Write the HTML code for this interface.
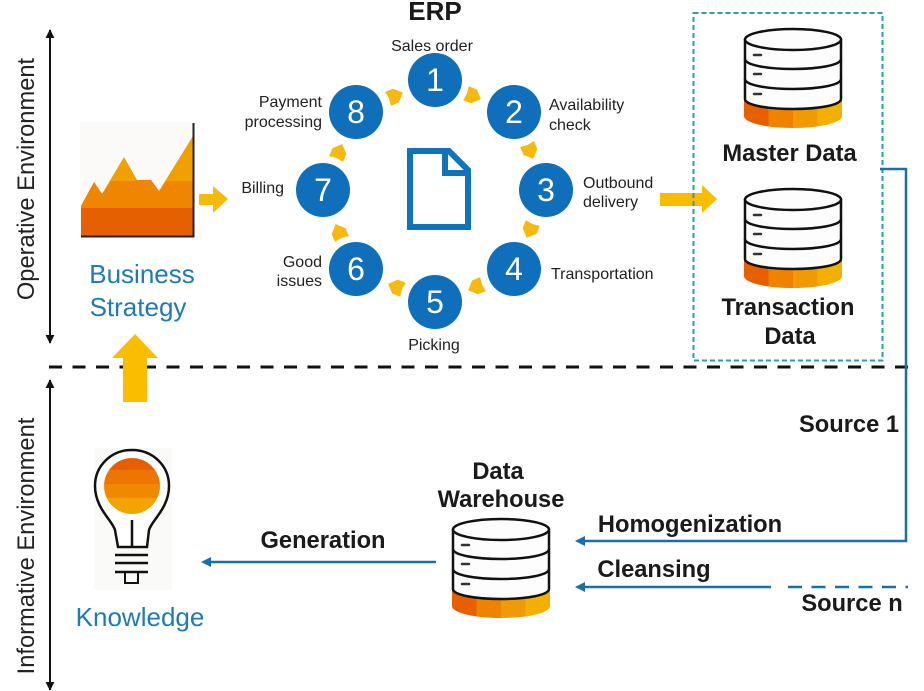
<!DOCTYPE html>
<html><head><meta charset="utf-8"><style>
html,body{margin:0;padding:0;background:#fff}
svg{display:block}
text{font-family:"Liberation Sans",sans-serif}
.s{font-size:16px;fill:#222}
.b{font-weight:bold;fill:#1a1a1a;font-size:23.7px}
.n{font-size:32px;fill:#fff;text-anchor:middle}
.v{font-size:23.7px;fill:#222;text-anchor:middle}
.t{font-size:26px;fill:#1f7ab5;text-anchor:middle}
</style></head><body>
<svg width="924" height="691" viewBox="0 0 924 691" xmlns="http://www.w3.org/2000/svg">
<defs>
<marker id="ah" viewBox="0 0 10 10" refX="9" refY="5" markerWidth="4.500" markerHeight="4.500" orient="auto-start-reverse"><path d="M0 0L10 5L0 10z" fill="#111"/></marker>
<linearGradient id="bg" x1="0" x2="1" y1="0" y2="0">
<stop offset="0" stop-color="#e85f00"/><stop offset=".25" stop-color="#e85f00"/><stop offset=".25" stop-color="#ee8300"/><stop offset=".5" stop-color="#ee8300"/><stop offset=".5" stop-color="#f09a05"/><stop offset=".75" stop-color="#f09a05"/><stop offset=".75" stop-color="#f3b000"/><stop offset="1" stop-color="#f3b000"/>
</linearGradient>
<linearGradient id="bulb" x1="0" x2="0" y1="0" y2="1">
<stop offset="0" stop-color="#e75e00"/><stop offset=".2" stop-color="#e75e00"/><stop offset=".22" stop-color="#ec7600"/><stop offset=".45" stop-color="#ec7600"/><stop offset=".48" stop-color="#ef8a00"/><stop offset=".7" stop-color="#ef8a00"/><stop offset=".73" stop-color="#f2a500"/><stop offset="1" stop-color="#f2a500"/>
</linearGradient>
<symbol id="db" width="100" height="104" viewBox="0 0 100 104" overflow="visible">
<path d="M1 72V88C1 95 24 100 50 100S99 95 99 88V72z" fill="url(#bg)"/>
<path d="M2 12V71C2 77 24 81 50 81S98 77 98 71V12z" fill="#fdfdfd" stroke="#111" stroke-width="2.500"/>
<ellipse cx="50" cy="11.500" rx="48" ry="10.500" fill="#fdfdfd" stroke="#111" stroke-width="2.500"/>
<path d="M2 31C2 37 24 41 50 41S98 37 98 31M2 51C2 57 24 61 50 61S98 57 98 51" fill="none" stroke="#111" stroke-width="2.500"/>
<path d="M11 27H18M11 46H18M11 66H18" stroke="#333" stroke-width="2.500" stroke-linecap="round"/>
</symbol>
<path id="pa" d="M-7.500 -7.500L1 -7.500L8.500 0L1 7.500L-7.500 7.500L-6.500 0z" fill="#f6b90e"/>
</defs>

<!-- Axes -->
<line x1="50" y1="30" x2="50" y2="343" stroke="#111" stroke-width="2" marker-start="url(#ah)" marker-end="url(#ah)"/>
<line x1="50" y1="380" x2="50" y2="690" stroke="#111" stroke-width="2" marker-start="url(#ah)" marker-end="url(#ah)"/>
<text transform="translate(34,179) rotate(-90)" class="v">Operative Environment</text>
<text transform="translate(34,546) rotate(-90)" class="v">Informative Environment</text>

<!-- Divider -->
<line x1="49" y1="367" x2="908" y2="367" stroke="#111" stroke-width="3" stroke-dasharray="13 10.500"/>

<!-- Chart -->
<rect x="80" y="122" width="114" height="114" fill="#fbfaf9"/>
<path d="M81 206L94 182L102 194L124 157L137 180H151L159 191L193 136V236H81z" fill="#f0a000"/>
<path d="M81 206L94 182L102 194L111 181H136L137 180H151L159 191L166 181H193V236H81z" fill="#ef8500"/>
<path d="M81 208H193V236H81z" fill="#e65f00"/>
<path d="M193.500 123V236.500H81" fill="none" stroke="#222" stroke-width="2"/>
<path d="M199 194H213V186L228 199L213 213V205H199z" fill="#f6bb0a"/>
<text x="142" y="283" class="t">Business</text>
<text x="138" y="316" class="t">Strategy</text>

<!-- Up arrow -->
<path d="M123 402V358H112L135 334L158 358H147V402z" fill="#fbbd00"/>

<!-- Bulb -->
<rect x="94" y="448" width="78" height="142" fill="#fafaf9"/>
<path d="M118 547H147L149 530C152 520 169 508 169 486C169 465 152 450 132 450S95 465 95 486C95 508 112 520 115 530z" fill="#fff" stroke="#111" stroke-width="2.500"/>
<circle cx="132" cy="486" r="28" fill="url(#bulb)"/>
<path d="M132 520V547M115 555H148M115 563H148M115 572H148" stroke="#111" stroke-width="2.500" fill="none"/>
<rect x="125" y="572" width="13" height="11" fill="none" stroke="#111" stroke-width="2"/>
<text x="140" y="626" class="t">Knowledge</text>

<!-- ERP -->
<text x="435" y="20" font-size="26" font-weight="bold" fill="#1a1a1a" text-anchor="middle">ERP</text>
<path d="M410 151H449L468 170V227H410z" fill="#fff" stroke="#1173ba" stroke-width="6"/>
<path d="M445 151V173H468" fill="none" stroke="#1173ba" stroke-width="6"/>

<g fill="#0f6fba">
<circle cx="435" cy="80" r="27"/><circle cx="514" cy="112" r="27"/><circle cx="546" cy="190" r="27"/><circle cx="514" cy="269" r="27"/>
<circle cx="435" cy="302" r="27"/><circle cx="356" cy="269" r="27"/><circle cx="323" cy="190" r="27"/><circle cx="356" cy="112" r="27"/>
</g>
<text x="435" y="91" class="n">1</text><text x="514" y="123" class="n">2</text><text x="546" y="201" class="n">3</text><text x="514" y="280" class="n">4</text>
<text x="435" y="313" class="n">5</text><text x="356" y="280" class="n">6</text><text x="323" y="201" class="n">7</text><text x="356" y="123" class="n">8</text>

<use href="#pa" transform="translate(473,96) rotate(22)"/>
<use href="#pa" transform="translate(530,151) rotate(67)"/>
<use href="#pa" transform="translate(530,230) rotate(112)"/>
<use href="#pa" transform="translate(476,287) rotate(157)"/>
<use href="#pa" transform="translate(396,287) rotate(202)"/>
<use href="#pa" transform="translate(339,232) rotate(247)"/>
<use href="#pa" transform="translate(339,152) rotate(292)"/>
<use href="#pa" transform="translate(395,96) rotate(337)"/>

<text x="432" y="51" class="s" text-anchor="middle">Sales order</text>
<text x="549" y="110" class="s">Availability</text><text x="549" y="130" class="s">check</text>
<text x="583" y="188" class="s">Outbound</text><text x="583" y="207" class="s">delivery</text>
<text x="551" y="279" class="s">Transportation</text>
<text x="434" y="350" class="s" text-anchor="middle">Picking</text>
<text x="322" y="267" class="s" text-anchor="end">Good</text><text x="322" y="286" class="s" text-anchor="end">issues</text>
<text x="284" y="193" class="s" text-anchor="end">Billing</text>
<text x="322" y="107" class="s" text-anchor="end">Payment</text><text x="322" y="127" class="s" text-anchor="end">processing</text>

<!-- Big arrow to box -->
<path d="M660 193H702V185L717 199L702 213V206H660z" fill="#f9bd00"/>

<!-- Box -->
<rect x="693.500" y="13" width="189" height="347.500" fill="none" stroke="#2a9db5" stroke-width="2" stroke-dasharray="5 3"/>
<use href="#db" x="743" y="28"/>
<use href="#db" x="743" y="188"/>
<text x="789.500" y="161" class="b" text-anchor="middle">Master Data</text>
<text x="788" y="315" class="b" text-anchor="middle">Transaction</text>
<text x="790" y="344" class="b" text-anchor="middle">Data</text>

<!-- Connectors -->
<path d="M880 169H906V541H578" fill="none" stroke="#1b6fa8" stroke-width="2.500"/>
<path d="M575 541L585 536V546z" fill="#1b6fa8"/>
<path d="M788 587H908" stroke="#1b6fa8" stroke-width="2.500" stroke-dasharray="14 9.500"/>
<path d="M771 587H578" stroke="#1b6fa8" stroke-width="2.500"/>
<path d="M575 587L585 582V592z" fill="#1b6fa8"/>
<path d="M436 562H204" stroke="#1b6fa8" stroke-width="2.500"/>
<path d="M201 562L211 557V567z" fill="#1b6fa8"/>

<text x="849" y="432" class="b" text-anchor="middle">Source 1</text>
<text x="852" y="611" class="b" text-anchor="middle">Source n</text>
<text x="690" y="532" class="b" text-anchor="middle">Homogenization</text>
<text x="654" y="577" class="b" text-anchor="middle">Cleansing</text>
<text x="323" y="548" class="b" text-anchor="middle">Generation</text>
<text x="498" y="479" class="b" text-anchor="middle">Data</text>
<text x="501" y="507" class="b" text-anchor="middle">Warehouse</text>
<use href="#db" x="451" y="518"/>
</svg>
</body></html>
